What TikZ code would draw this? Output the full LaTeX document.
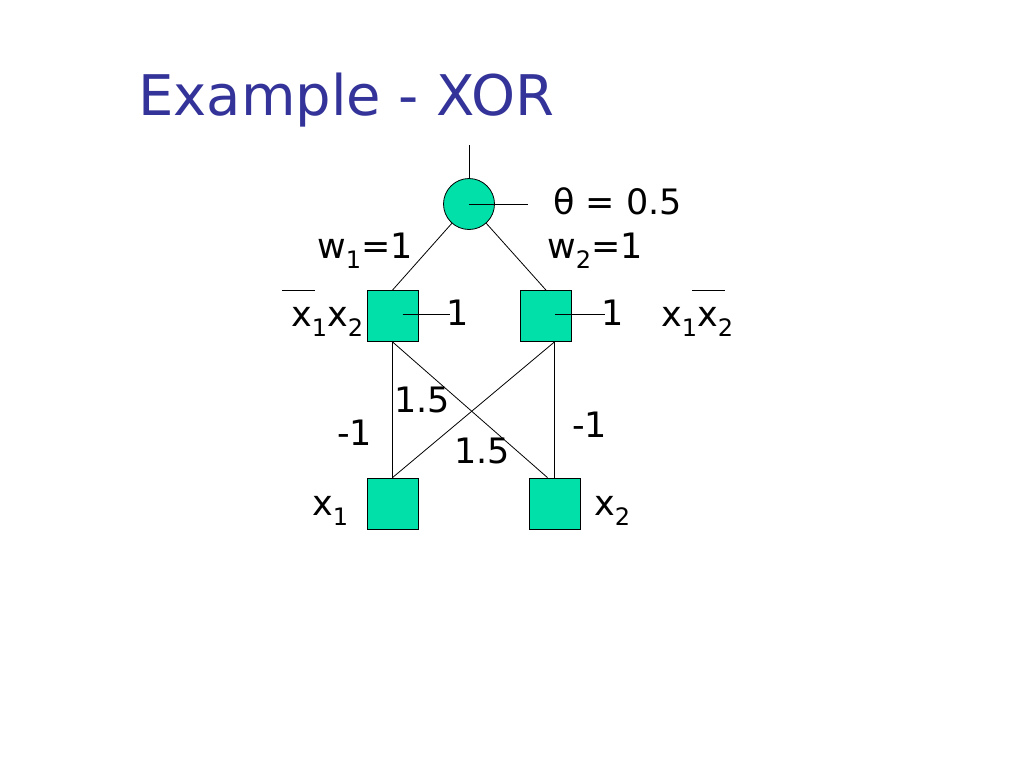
\documentclass[tikz,border=0pt]{standalone}
\usepackage{fontspec}
\setmainfont{DejaVu Sans}
\usetikzlibrary{calc}
\definecolor{unitfill}{HTML}{00E0A8}
\definecolor{titleblue}{HTML}{333399}
\newcommand\sbs[1]{\raisebox{-10pt}{\fontsize{24}{24}\selectfont #1}}
\begin{document}
\begin{tikzpicture}[x=1pt,y=-1pt,
  unit/.style={draw=black,line width=0.8pt,fill=unitfill,inner sep=0pt,minimum size=51pt},
  sq/.style={unit,rectangle},
  neuron/.style={unit,circle},
  lab/.style={inner sep=0pt,anchor=base west,font=\fontsize{35}{42}\selectfont},
  wire/.style={draw=black,line width=0.8pt}]
\useasboundingbox (0,0) rectangle (1024,768);
\node[inner sep=0pt,anchor=base west,text=titleblue,font=\fontsize{56}{66}\selectfont] (title) at (138,115) {Example - XOR};
% units
\node[neuron] (out) at (469,204) {};
\node[sq] (h1) at (392.5,316) {};
\node[sq] (h2) at (546,316) {};
\node[sq] (in1) at (392.5,503.5) {};
\node[sq] (in2) at (554.5,503.5) {};
\coordinate (top) at (469,145);
\coordinate (thend) at (528,204);
\coordinate (b1end) at (450,314);
\coordinate (b2end) at (605,314);
% labels
\node[lab] (theta) at (553,214) {θ = 0.5};
\node[lab] (w1) at (317,258) {w\sbs{1}=1};
\node[lab] (w2) at (547,258) {w\sbs{2}=1};
\node[lab] (b1) at (446,325) {1};
\node[lab] (b2) at (601,325) {1};
\node[lab] (xl) at (291,326) {x\sbs{1}x\sbs{2}};
\node[lab] (xr) at (661,326) {x\sbs{1}x\sbs{2}};
\node[lab] (c1) at (394,412) {1.5};
\node[lab] (m1) at (337,445) {-1};
\node[lab] (c2) at (454,463) {1.5};
\node[lab] (m2) at (572,437) {-1};
\node[lab] (x1) at (312,515) {x\sbs{1}};
\node[lab] (x2) at (594,515) {x\sbs{2}};
% bars
\draw[wire] (282,290) -- (315,290);
\draw[wire] (692,290) -- (725,290);
% connectors
\draw[wire] (top) -- (out);
\draw[wire] (out.center) -- (thend);
\draw[wire] (out) -- (h1.north);
\draw[wire] (out) -- (h2.north);
\draw[wire] ($(h1.center)+(10,-2)$) -- (b1end);
\draw[wire] ($(h2.center)+(9,-2)$) -- (b2end);
\draw[wire] (h1.south) -- (in1.north);
\draw[wire] (in2.north |- h2.south) -- (in2.north);
\draw[wire] (in2.north |- h2.south) -- (in1.north);
\draw[wire] (h1.south) -- ($(in2.north)+(-7,0)$);
\end{tikzpicture}
\end{document}
